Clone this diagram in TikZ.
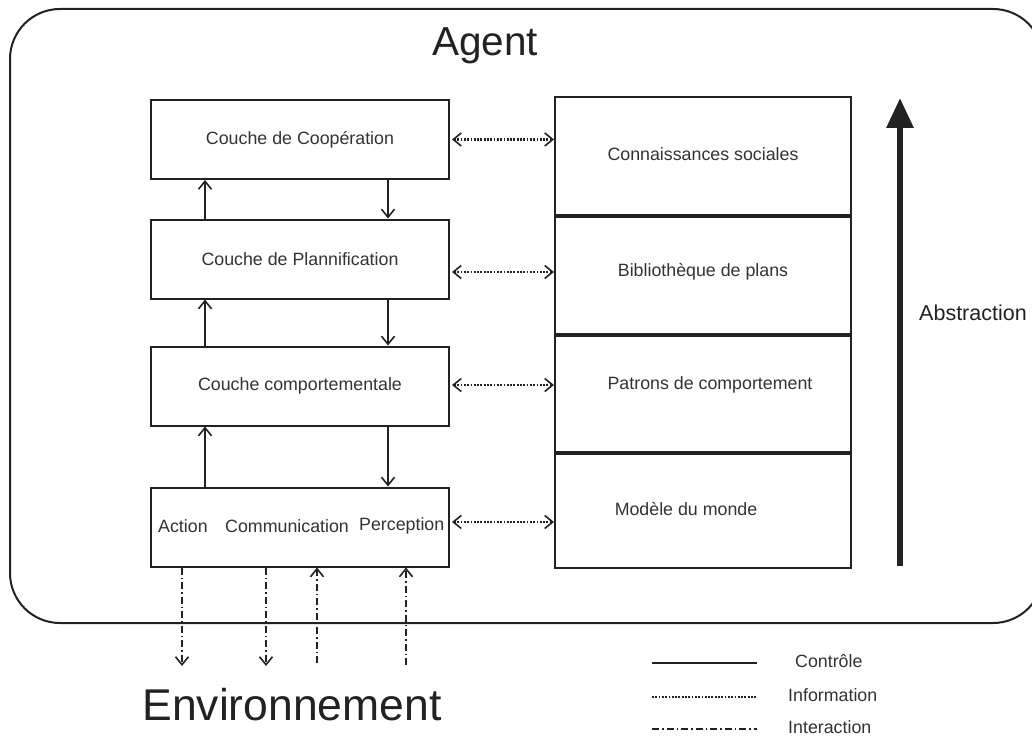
\documentclass[tikz,border=0pt]{standalone}
\usepackage{fontspec}
\setmainfont{Liberation Sans}
\usetikzlibrary{arrows.meta,positioning}
\definecolor{ink}{HTML}{222222}
\definecolor{txt}{HTML}{333333}
\tikzset{
  small/.style={text=txt, font=\fontsize{17.8}{20}\selectfont},
  layer/.style={draw=ink, line width=2pt, fill=white, minimum width=298pt, minimum height=79pt,
    inner sep=0pt, small},
  store/.style={draw=ink, line width=2pt, minimum width=296pt, inner sep=0pt},
  ctrl/.style={draw=ink, line width=1.7pt, ->},
  dotline/.style={draw=ink, line width=2.2pt, dash pattern=on 1.8pt off 1.5pt},
  info/.style={dotline, <->},
  inter/.style={draw=ink, line width=1.7pt, dash pattern=on 7pt off 3pt on 1.5pt off 3pt},
  interhead/.style={inter, ->},
  legtxt/.style={small, anchor=west, inner sep=0pt},
}
\begin{document}
\begin{tikzpicture}[x=1pt,y=-1pt, >={Straight Barb[length=8pt,width=13pt,line width=1.6pt]}]
\useasboundingbox (0,0) rectangle (1032,738);
\fill[white] (0,0) rectangle (1032,738);
\begin{scope}
  \clip (0,0) rectangle (1032,738);
  \draw[ink, line width=2pt, rounded corners=50pt] (10,9) rectangle (1043,623);
\end{scope}
\node[text=ink, font=\fontsize{40.5}{42}\selectfont] (agent) at (485,46) {Agent};

% layers of the agent
\node[layer] (coop) at (300,139.5) {Couche de Coopération};
\node[layer] (plan) at (300,259) {Couche de Plannification};
\node[layer] (comp) at (300,386) {Couche comportementale};
\node[layer] (io) at (300,527) {};
\node[small, anchor=west, inner sep=0pt] (act) at (158,526) {Action};
\node[small, anchor=west, inner sep=0pt] (com) at (225,526) {Communication};
\node[small, anchor=west, inner sep=0pt] (per) at (359,526) {Perception};

% knowledge stack
\node[store, minimum height=118pt] (soc) at (703,156) {};
\node[store, minimum height=119pt] (bib) at (703,274.5) {};
\node[store, minimum height=118pt] (pat) at (703,393) {};
\node[store, minimum height=116pt] (mod) at (703,510) {};
\node[small] (soct) at (703,154) {Connaissances sociales};
\node[small] (bibt) at (703,272) {Bibliothèque de plans};
\node[small] (patt) at (710,385) {Patrons de comportement};
\node[small] (modt) at (686,509) {Modèle du monde};
\draw[ink, line width=4pt] (soc.south west) -- (soc.south east);
\draw[ink, line width=4pt] (bib.south west) -- (bib.south east);
\draw[ink, line width=4pt] (pat.south west) -- (pat.south east);

% control flow between layers
\draw[ctrl] (plan.south west |- plan.north) ++(55,0) coordinate (u1) -- (u1 |- coop.south);
\draw[ctrl] (coop.south west) ++(238,0) coordinate (d1) -- (d1 |- plan.north);
\draw[ctrl] (comp.south west |- comp.north) ++(55,0) coordinate (u2) -- (u2 |- plan.south);
\draw[ctrl] (plan.south west) ++(238,0) coordinate (d2) -- (d2 |- comp.north);
\draw[ctrl] (io.south west |- io.north) ++(55,0) coordinate (u3) -- (u3 |- comp.south);
\draw[ctrl] (comp.south west) ++(238,0) coordinate (d3) -- (d3 |- io.north);

% information exchange
\draw[info] (coop.east) ++(2,0) coordinate (i1) -- (i1 -| soc.west);
\draw[info] (plan.east |- bibt) ++(2,0) coordinate (i2) -- (i2 -| bib.west);
\draw[info] (comp.east |- patt) ++(2,0) coordinate (i3) -- (i3 -| pat.west);
\draw[info] (io.east |- 0,522) ++(2,0) coordinate (i4) -- (i4 -| mod.west);

% abstraction axis
\coordinate (ab0) at (900,566);
\coordinate (ab1) at (900,98);
\draw[ink, line width=6pt, -{Triangle[length=30pt,width=26pt]}] (ab0) -- (ab1);
\node[text=ink, font=\fontsize{21.5}{24}\selectfont, anchor=west, inner sep=0pt] (abs) at (919,313) {Abstraction};

% interaction with the environment
\node[text=ink, font=\fontsize{44.5}{46}\selectfont] (env) at (292,705) {Environnement};
\coordinate (e1) at (182,666);
\coordinate (e2) at (266,666);
\coordinate (e3) at (317,663);
\coordinate (e4) at (406,665);
\draw[interhead] (io.south -| e1) -- (e1);
\draw[interhead] (io.south -| e2) -- (e2);
\draw[interhead] (e3) -- (e3 |- io.south);
\draw[interhead] (e4) -- (e4 |- io.south);

% legend
\coordinate (l1a) at (652,663); \coordinate (l1b) at (757,663);
\coordinate (l2a) at (652,697); \coordinate (l2b) at (757,697);
\coordinate (l3a) at (652,729); \coordinate (l3b) at (757,729);
\draw[ink, line width=2pt] (l1a) -- (l1b);
\draw[dotline] (l2a) -- (l2b);
\draw[inter] (l3a) -- (l3b);
\node[legtxt] (lg1) at (795,661) {Contrôle};
\node[legtxt] (lg2) at (788,695) {Information};
\node[legtxt] (lg3) at (788,727) {Interaction};
\end{tikzpicture}
\end{document}
